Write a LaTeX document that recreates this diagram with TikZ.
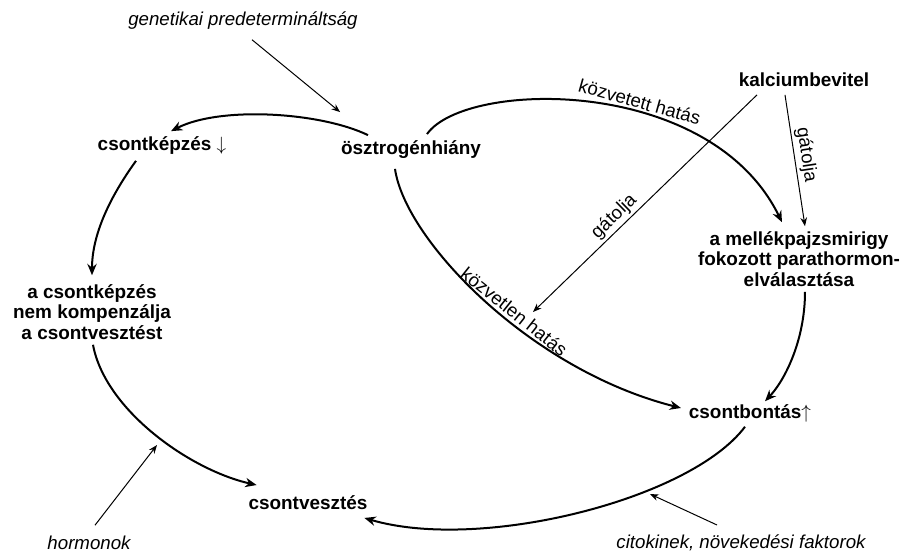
\documentclass[tikz,border=0pt]{standalone}
\usepackage{fontspec}
\setmainfont{Liberation Sans}
\usetikzlibrary{arrows.meta, positioning, calc}

\begin{document}
\begin{tikzpicture}[x=0.75pt, y=-0.75pt,
  font=\fontsize{14}{15.5}\selectfont,
  fo/.style={font=\fontsize{14.2}{15.6}\selectfont\bfseries, inner sep=2pt},
  kulso/.style={font=\fontsize{14}{15.5}\selectfont\itshape, inner sep=2pt},
  hat/.style={-{Stealth[length=8.5pt, width=7pt]}, line width=1.5pt},
  gyenge/.style={-{Stealth[length=6.5pt, width=5pt]}, line width=0.75pt},
  felirat/.style={sloped, above, inner sep=2pt}]
  \useasboundingbox (0,0) rectangle (901,552);

  % nodes
  \node[kulso] (gen)   at (243,21)  {genetikai predetermináltság};
  \node[fo]    (csk)   at (162,146) {csontképzés $\downarrow$};
  \node[fo]    (oszt)  at (411,150) {ösztrogénhiány};
  \node[fo]    (kalc)  at (804,80)  {kalciumbevitel};
  \node[fo, align=center] (mell) at (799,259)
    {a mellékpajzsmirigy\\fokozott parathormon-\\elválasztása};
  \node[fo]    (bont)  at (750,413) {csontbontás$\uparrow$};
  \node[fo, align=center] (kep) at (92,312)
    {a csontképzés\\nem kompenzálja\\a csontvesztést};
  \node[fo]    (veszt) at (308,503) {csontvesztés};
  \node[kulso] (horm)  at (89,543)  {hormonok};
  \node[kulso] (cito)  at (741,543) {citokinek, növekedési faktorok};

  \coordinate (gat1)    at (533,312);
  \coordinate (hormhit) at (157,445);
  \coordinate (citohit) at (650,494);

  % main effects
  \draw[hat] ($(oszt.north)+(-43,-3)$) .. controls (320,112) and (220,106)
    .. ($(csk.north)+(9,-3)$);
  \draw[hat] ($(oszt.north)+(16,-4)$) .. controls (465,80) and (710,75)
    .. ($(mell.north)+(-17,-6)$) node[felirat, pos=0.6] {közvetett hatás};
  \draw[hat] ($(oszt.south)+(-16,7)$) .. controls (405,240) and (530,370)
    .. ($(bont.west)+(-5,-5)$) node[felirat, pos=0.57] {közvetlen hatás};
  \draw[hat] ($(mell.south)+(6,2)$) .. controls (805,340) and (785,380)
    .. ($(bont.north)+(15,0)$);
  \draw[hat] ($(bont.south)+(-5,2)$) .. controls (690,500) and (480,552)
    .. ($(veszt.south east)+(-6,5)$);
  \draw[hat] ($(csk.south)+(-26,3)$) .. controls (115,190) and (92,230)
    .. ($(kep.north)+(0,-6)$);
  \draw[hat] ($(kep.south)+(1,2)$) .. controls (105,410) and (190,470)
    .. ($(veszt.north west)+(11,-8)$);

  % inhibition and outer factors
  \draw[gyenge] ($(kalc.south)+(-47,5)$) -- (gat1)
    node[felirat, pos=0.6] {gátolja};
  \draw[gyenge] ($(kalc.south)+(-19,5)$) -- ($(mell.north)+(6,-2)$)
    node[felirat, pos=0.47] {gátolja};
  \draw[gyenge] ($(gen.south)+(9,7)$) -- ($(oszt.north west)+(2,-26)$);
  \draw[gyenge] ($(horm.north)+(6,-8)$) -- (hormhit);
  \draw[gyenge] ($(cito.north)+(-24,-7)$) -- (citohit);
\end{tikzpicture}
\end{document}
